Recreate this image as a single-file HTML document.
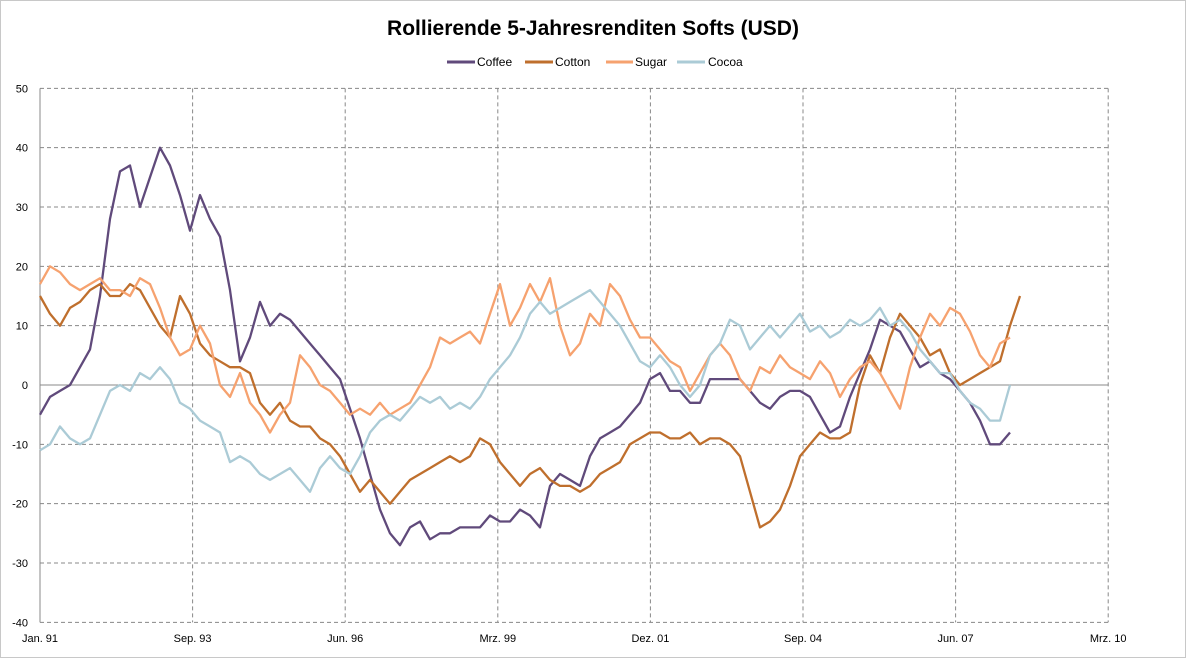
<!DOCTYPE html>
<html><head><meta charset="utf-8"><style>
body{margin:0;background:#fff;}
svg{display:block;font-family:"Liberation Sans",sans-serif;}
</style></head><body>
<svg id="chart" width="1187" height="659">
<rect x="0.5" y="0.5" width="1185" height="657" fill="#fff" stroke="#c8c8c8"/>
<text x="593" y="35" text-anchor="middle" font-size="21" font-weight="bold">Rollierende 5-Jahresrenditen Softs (USD)</text>
<g id="legend" font-size="12">
<g><line x1="447" y1="62" x2="475" y2="62" stroke="#604a7b" stroke-width="3"/><text x="477" y="66">Coffee</text></g>
<g><line x1="525" y1="62" x2="553" y2="62" stroke="#bf6f2d" stroke-width="3"/><text x="555" y="66">Cotton</text></g>
<g><line x1="606" y1="62" x2="633" y2="62" stroke="#f6a26f" stroke-width="3"/><text x="635" y="66">Sugar</text></g>
<g><line x1="677" y1="62" x2="705" y2="62" stroke="#abcbd6" stroke-width="3"/><text x="708" y="66">Cocoa</text></g>
</g>
<g id="grid"></g><g id="axes"></g><g id="series"></g>
</svg>
<script>
const yTicks=[50,40,30,20,10,0,-10,-20,-30,-40];
const xTickLabels=["Jan. 91","Sep. 93","Jun. 96","Mrz. 99","Dez. 01","Sep. 04","Jun. 07","Mrz. 10"];
const xTickDays=[0,1000,2000,3000,4000,5000,6000,7000];
const stepDays=65.53;
const coffee=[-5,-2,-1,0,3,6,15,28,36,37,30,35,40,37,32,26,32,28,25,16,4,8,14,10,12,11,9,7,5,3,1,-4,-9,-15,-21,-25,-27,-24,-23,-26,-25,-25,-24,-24,-24,-22,-23,-23,-21,-22,-24,-17,-15,-16,-17,-12,-9,-8,-7,-5,-3,1,2,-1,-1,-3,-3,1,1,1,1,-1,-3,-4,-2,-1,-1,-2,-5,-8,-7,-2,2,6,11,10,9,6,3,4,2,1,-1,-3,-6,-10,-10,-8];
const cotton=[15,12,10,13,14,16,17,15,15,17,16,13,10,8,15,12,7,5,4,3,3,2,-3,-5,-3,-6,-7,-7,-9,-10,-12,-15,-18,-16,-18,-20,-18,-16,-15,-14,-13,-12,-13,-12,-9,-10,-13,-15,-17,-15,-14,-16,-17,-17,-18,-17,-15,-14,-13,-10,-9,-8,-8,-9,-9,-8,-10,-9,-9,-10,-12,-18,-24,-23,-21,-17,-12,-10,-8,-9,-9,-8,0,5,2,8,12,10,8,5,6,2,0,1,2,3,4,10,15];
const sugar=[17,20,19,17,16,17,18,16,16,15,18,17,13,8,5,6,10,7,0,-2,2,-3,-5,-8,-5,-3,5,3,0,-1,-3,-5,-4,-5,-3,-5,-4,-3,0,3,8,7,8,9,7,12,17,10,13,17,14,18,10,5,7,12,10,17,15,11,8,8,6,4,3,-1,2,5,7,5,1,-1,3,2,5,3,2,1,4,2,-2,1,3,4,2,-1,-4,3,8,12,10,13,12,9,5,3,7,8];
const cocoa=[-11,-10,-7,-9,-10,-9,-5,-1,0,-1,2,1,3,1,-3,-4,-6,-7,-8,-13,-12,-13,-15,-16,-15,-14,-16,-18,-14,-12,-14,-15,-12,-8,-6,-5,-6,-4,-2,-3,-2,-4,-3,-4,-2,1,3,5,8,12,14,12,13,14,15,16,14,12,10,7,4,3,5,3,0,-2,0,5,7,11,10,6,8,10,8,10,12,9,10,8,9,11,10,11,13,10,11,9,6,4,2,2,-1,-3,-4,-6,-6,0];
const x0=40,pxPerDay=152.6/1000,yZero=385,pxPerUnit=534/90;
const X=d=>x0+d*pxPerDay, Y=v=>yZero-v*pxPerUnit;
const NS="http://www.w3.org/2000/svg";
const grid=document.getElementById('grid'),axes=document.getElementById('axes'),ser=document.getElementById('series');
function mk(t,a,p){const e=document.createElementNS(NS,t);for(const k in a)e.setAttribute(k,a[k]);p.appendChild(e);return e;}
const xEnd=X(7000);
yTicks.forEach(v=>{
 const l=mk('line',{x1:x0,x2:xEnd,y1:Y(v),y2:Y(v),stroke:'#888','stroke-dasharray':v===0?'':'4,3','stroke-width':1},grid);
 
 
 const t=mk('text',{x:28,y:Y(v)+4,'text-anchor':'end','font-size':11},axes);t.textContent=v;
 
 
});
xTickDays.forEach((d,i)=>{
 if(i>0){const l=mk('line',{x1:X(d),x2:X(d),y1:Y(50),y2:Y(-40),stroke:'#888','stroke-dasharray':'4,3'},grid);
 
 }
 const t=mk('text',{x:X(d),y:642,'text-anchor':'middle','font-size':11},axes);t.textContent=xTickLabels[i];
 
 
});
const ax=mk('line',{x1:x0,x2:x0,y1:Y(50),y2:Y(-40),stroke:'#888'},axes);


const series=[["coffee",coffee,"#604a7b"],["cotton",cotton,"#bf6f2d"],["sugar",sugar,"#f6a26f"],["cocoa",cocoa,"#abcbd6"]];
series.forEach(([n,d,c])=>{
 const pts=d.map((v,i)=>X(i*stepDays).toFixed(1)+","+Y(v).toFixed(1)).join(" ");
 const p=mk('polyline',{points:pts,fill:'none',stroke:c,'stroke-width':2.3,'stroke-linejoin':'round'},ser);
 
 
});
</script>
</body></html>
